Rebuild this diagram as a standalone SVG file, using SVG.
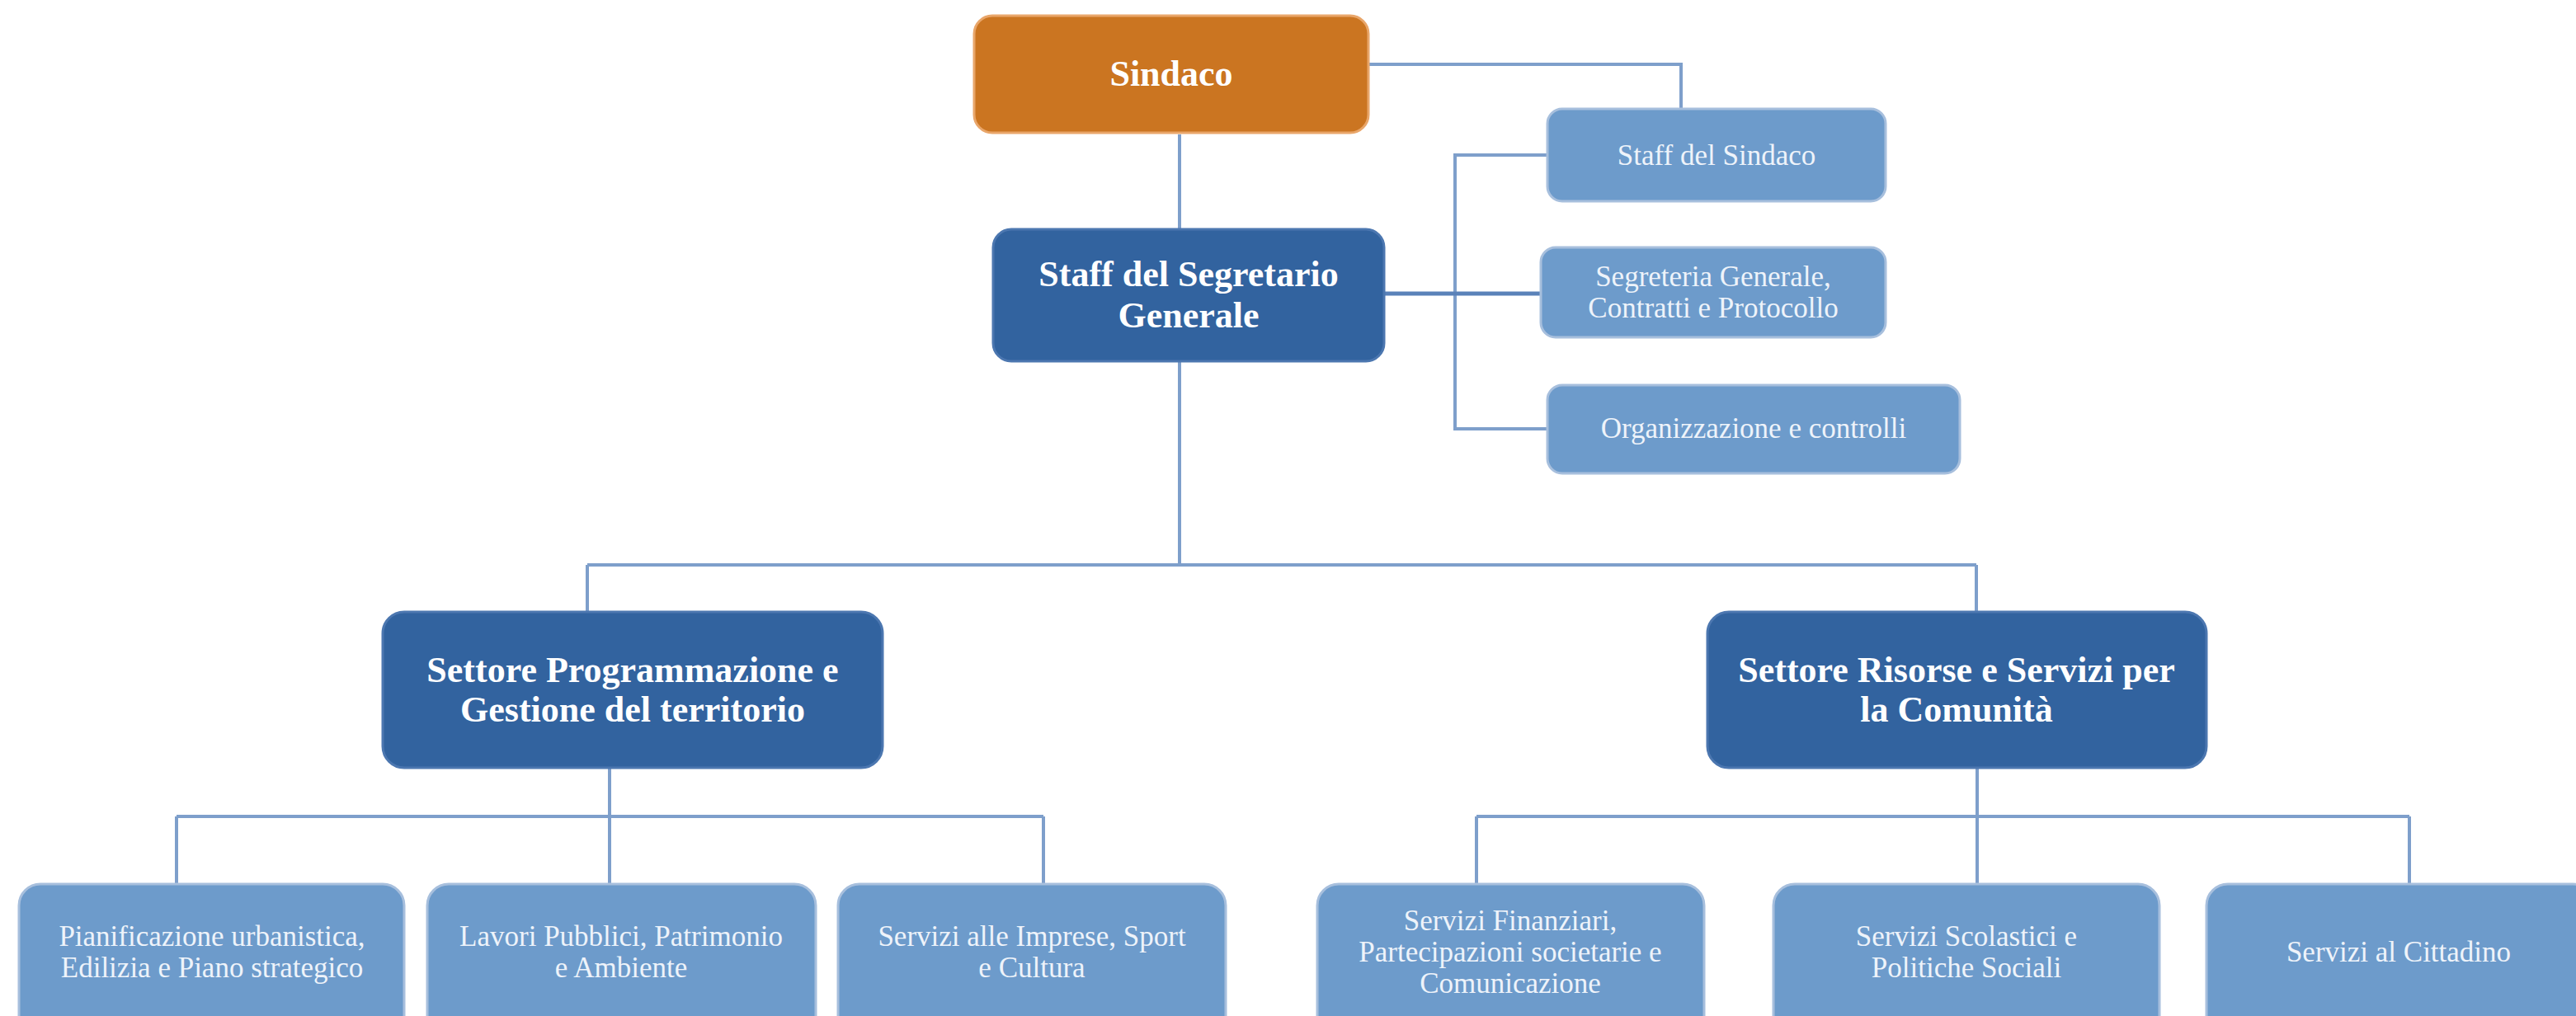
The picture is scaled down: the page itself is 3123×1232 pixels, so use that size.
<svg xmlns="http://www.w3.org/2000/svg" width="3123" height="1232" viewBox="0 0 3123 1232">
<style>
.c{fill:none;stroke:#7E9FCB;stroke-width:4}
.cd{fill:none;stroke:#5A82B9;stroke-width:5}
.org{fill:#CB7521;stroke:#E9A66A;stroke-width:3}
.dk{fill:#32639F;stroke:#4C77B0;stroke-width:3}
.lt{fill:#6D9BCB;stroke:#A7BFDD;stroke-width:3}
.tb{font-family:"Liberation Serif","Times New Roman",serif;font-weight:bold;font-size:44px;fill:#FFFFFF;text-anchor:middle}
.tr{font-family:"Liberation Serif","Times New Roman",serif;font-size:35px;fill:#EEF3FA;text-anchor:middle}
</style>
<rect width="3123" height="1232" fill="#FFFFFF"/>
<g id="connectors">
<path class="c" d="M1659,78 H2038 V131"/>
<path class="c" d="M1430,163 V277"/>
<path class="c" d="M1876,188 H1764 V520 H1876"/>
<path class="cd" d="M1678,356 H1868"/>
<path class="c" d="M1430,439 V685 M712,685 H2396 M712,685 V742 M2396,685 V742"/>
<path class="c" d="M739,932 V1072 M214,990 H1265 M214,990 V1072 M1265,990 V1072"/>
<path class="c" d="M2397,932 V1072 M1790,990 H2921 M1790,990 V1072 M2921,990 V1072"/>
</g>
<g id="sindaco">
<rect class="org" x="1181" y="19" width="478" height="142" rx="22"/>
<text class="tb" x="1420" y="104" font-size="46">Sindaco</text>
</g>
<g id="staff-segretario">
<rect class="dk" x="1204" y="278" width="474" height="160" rx="22"/>
<text class="tb" x="1441" y="347">Staff del Segretario</text>
<text class="tb" x="1441" y="397">Generale</text>
</g>
<g id="staff-sindaco">
<rect class="lt" x="1876" y="132" width="410" height="112" rx="18"/>
<text class="tr" x="2081" y="200">Staff del Sindaco</text>
</g>
<g id="segreteria">
<rect class="lt" x="1868" y="300" width="418" height="109" rx="18"/>
<text class="tr" x="2077" y="347">Segreteria Generale,</text>
<text class="tr" x="2077" y="385">Contratti e Protocollo</text>
</g>
<g id="organizzazione">
<rect class="lt" x="1876" y="467" width="500" height="107" rx="18"/>
<text class="tr" x="2126" y="531">Organizzazione e controlli</text>
</g>
<g id="settore-programmazione">
<rect class="dk" x="464" y="742" width="606" height="189" rx="26"/>
<text class="tb" x="767" y="827">Settore Programmazione e</text>
<text class="tb" x="767" y="875">Gestione del territorio</text>
</g>
<g id="settore-risorse">
<rect class="dk" x="2070" y="742" width="605" height="189" rx="26"/>
<text class="tb" x="2372" y="827">Settore Risorse e Servizi per</text>
<text class="tb" x="2372" y="875">la Comunità</text>
</g>
<g id="pianificazione">
<rect class="lt" x="23" y="1072" width="467" height="190" rx="26"/>
<text class="tr" x="257" y="1147">Pianificazione urbanistica,</text>
<text class="tr" x="257" y="1185">Edilizia e Piano strategico</text>
</g>
<g id="lavori">
<rect class="lt" x="518" y="1072" width="471" height="190" rx="26"/>
<text class="tr" x="753" y="1147">Lavori Pubblici, Patrimonio</text>
<text class="tr" x="753" y="1185">e Ambiente</text>
</g>
<g id="imprese">
<rect class="lt" x="1016" y="1072" width="470" height="190" rx="26"/>
<text class="tr" x="1251" y="1147">Servizi alle Imprese, Sport</text>
<text class="tr" x="1251" y="1185">e Cultura</text>
</g>
<g id="finanziari">
<rect class="lt" x="1597" y="1072" width="469" height="190" rx="26"/>
<text class="tr" x="1831" y="1128">Servizi Finanziari,</text>
<text class="tr" x="1831" y="1166">Partecipazioni societarie e</text>
<text class="tr" x="1831" y="1204">Comunicazione</text>
</g>
<g id="scolastici">
<rect class="lt" x="2150" y="1072" width="468" height="190" rx="26"/>
<text class="tr" x="2384" y="1147">Servizi Scolastici e</text>
<text class="tr" x="2384" y="1185">Politiche Sociali</text>
</g>
<g id="cittadino">
<rect class="lt" x="2675" y="1072" width="470" height="190" rx="26"/>
<text class="tr" x="2908" y="1166">Servizi al Cittadino</text>
</g>
</svg>
